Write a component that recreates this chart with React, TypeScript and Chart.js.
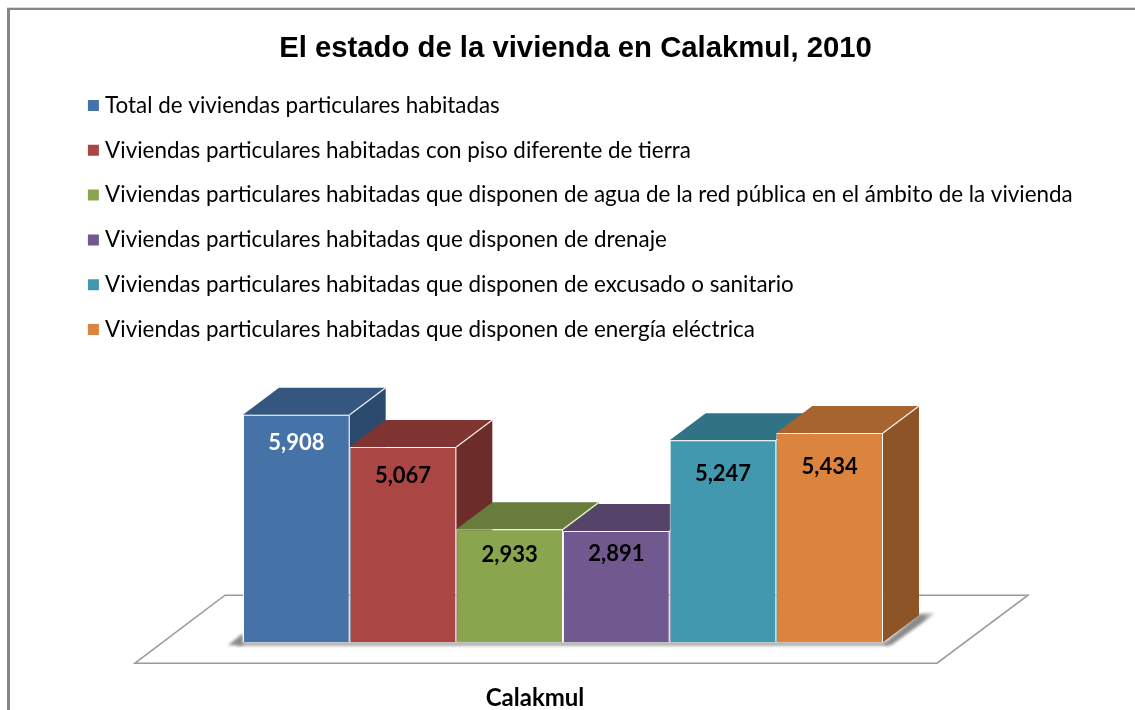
import React, { useEffect, useRef } from "react";
import { Chart, registerables } from "chart.js";

Chart.register(...registerables);

const categories = ["Calakmul"];
const seriesNames = [
  "Total de viviendas particulares habitadas",
  "Viviendas particulares habitadas con piso diferente de tierra",
  "Viviendas particulares habitadas que disponen de agua de la red pública en el ámbito de la vivienda",
  "Viviendas particulares habitadas que disponen de drenaje",
  "Viviendas particulares habitadas que disponen de excusado o sanitario",
  "Viviendas particulares habitadas que disponen de energía eléctrica",
];
const seriesValues = [5908, 5067, 2933, 2891, 5247, 5434];
const frontColors = ["#4572A7", "#AA4643", "#89A54E", "#71588F", "#4198AF", "#DB843D"];
const topColors = ["#35577F", "#803533", "#687D3B", "#564369", "#317385", "#A6642E"];
const sideColors = ["#2C4A6E", "#6C2C2A", "#58692F", "#48385A", "#296170", "#8C5427"];
const labelColors = ["#FFFFFF", "#000000", "#000000", "#000000", "#000000", "#000000"];
const labelDrop = [28, 29, 26, 23, 34, 34];

const DEPTH_X = 36;
const DEPTH_Y = -27;
const UI_FONT = "Lato";

function drawBox(chart: any, i: number) {
  const { ctx } = chart;
  const meta = chart.getDatasetMeta(i);
  const bar = meta.data[0];
  const l = bar.x - bar.width / 2;
  const r = l + bar.width;
  const t = bar.y;
  const b = bar.base;
  ctx.save();
  ctx.fillStyle = sideColors[i];
  ctx.beginPath();
  ctx.moveTo(r, t);
  ctx.lineTo(r + DEPTH_X, t + DEPTH_Y);
  ctx.lineTo(r + DEPTH_X, b + DEPTH_Y);
  ctx.lineTo(r, b);
  ctx.closePath();
  ctx.fill();
  ctx.fillStyle = topColors[i];
  ctx.beginPath();
  ctx.moveTo(l, t);
  ctx.lineTo(l + DEPTH_X, t + DEPTH_Y);
  ctx.lineTo(r + DEPTH_X, t + DEPTH_Y);
  ctx.lineTo(r, t);
  ctx.closePath();
  ctx.fill();
  ctx.strokeStyle = "rgba(255,255,255,0.9)";
  ctx.lineWidth = 1.25;
  ctx.beginPath();
  ctx.moveTo(r, t);
  ctx.lineTo(r + DEPTH_X, t + DEPTH_Y);
  ctx.stroke();
  ctx.restore();
  meta.controller.draw();
}

const scene3d = {
  id: "scene3d",
  afterLayout(chart: any) {
    chart.titleBlock.left += 25;
    chart.legend.width = chart.width - chart.legend.left;
    chart.legend.right = chart.width;
  },
  beforeDraw(chart: any) {
    const { ctx, width, height } = chart;
    ctx.save();
    ctx.fillStyle = "#FFFFFF";
    ctx.fillRect(0, 0, width, height);
    ctx.fillStyle = "#DDDDDD";
    ctx.fillRect(7, 7, width - 7, 1);
    ctx.fillStyle = "#868686";
    ctx.fillRect(7, 8, width - 7, 2);
    ctx.fillRect(7, 8, 3, height - 8);
    ctx.restore();
  },
  beforeDatasetsDraw(chart: any) {
    const { ctx } = chart;
    const first = chart.getDatasetMeta(0).data[0];
    const last = chart.getDatasetMeta(seriesValues.length - 1).data[0];
    const left = first.x - first.width / 2;
    const right = last.x + last.width / 2;
    const base = first.base;
    ctx.save();
    // floor
    ctx.beginPath();
    ctx.moveTo(left - 108, base + 21);
    ctx.lineTo(left - 18, base - 47);
    ctx.lineTo(right + 145, base - 47);
    ctx.lineTo(right + 54, base + 21);
    ctx.closePath();
    ctx.fillStyle = "#FFFFFF";
    ctx.fill();
    ctx.strokeStyle = "#9A9A9A";
    ctx.lineWidth = 1.5;
    ctx.stroke();
    // soft shadows
    ctx.filter = "blur(1.5px)";
    ctx.fillStyle = "#A2A2A2";
    ctx.fillRect(left - 6, base, right - left + 12, 3.5);
    const fade = ctx.createLinearGradient(right + 8, 0, right + 54, 0);
    fade.addColorStop(0, "#8A8A8A");
    fade.addColorStop(0.7, "#8A8A8A");
    fade.addColorStop(1, "rgba(138,138,138,0)");
    ctx.fillStyle = fade;
    ctx.beginPath();
    ctx.moveTo(right, base + 2);
    ctx.lineTo(right + 36, base - 28);
    ctx.lineTo(right + 54, base - 30);
    ctx.lineTo(right + 8, base + 3);
    ctx.closePath();
    ctx.fill();
    ctx.fillStyle = "#8A8A8A";
    ctx.beginPath();
    ctx.moveTo(left, base - 9);
    ctx.lineTo(left - 15, base + 3);
    ctx.lineTo(left, base + 3);
    ctx.closePath();
    ctx.fill();
    ctx.restore();
  },
  // The library paints the rightmost dataset first; these boxes must overlap
  // left to right, so the controllers are called in that order below.
  beforeDatasetDraw() {
    return false;
  },
  afterDatasetsDraw(chart: any) {
    const { ctx } = chart;
    seriesValues.forEach((_, i) => drawBox(chart, i));
    ctx.save();
    ctx.font = `bold 22px "${UI_FONT}"`;
    ctx.textAlign = "center";
    ctx.textBaseline = "middle";
    seriesValues.forEach((v, i) => {
      const bar = chart.getDatasetMeta(i).data[0];
      ctx.fillStyle = labelColors[i];
      ctx.fillText(v.toLocaleString("en-US"), bar.x, bar.y + labelDrop[i]);
    });
    ctx.restore();
  },
};

export default function App() {
  const ref = useRef<HTMLCanvasElement>(null);
  useEffect(() => {
    document.body.style.margin = "0";
    const chart = new Chart(ref.current as HTMLCanvasElement, {
      type: "bar",
      data: {
        labels: categories,
        datasets: seriesNames.map((label, i) => ({
          label,
          data: [seriesValues[i]],
          backgroundColor: frontColors[i],
          borderColor: "rgba(255,255,255,0.9)",
          borderWidth: 1,
        })),
      },
      options: {
        responsive: false,
        animation: false,
        layout: { padding: { left: 70.5, right: 79.5, top: 31.4, bottom: -37 } },
        plugins: {
          title: {
            display: true,
            text: "El estado de la vivienda en Calakmul, 2010",
            color: "#000000",
            font: { family: "Liberation Sans", size: 29.3, weight: "bold" },
            padding: { top: 0, bottom: 5.35 },
          },
          legend: {
            display: true,
            position: "top",
            align: "start",
            labels: {
              color: "#000000",
              font: { family: UI_FONT, size: 22.4 },
              boxWidth: 1,
              boxHeight: 1,
              padding: 22.4,
              generateLabels: () =>
                seriesNames.map((text, i) => ({
                  text,
                  fillStyle: frontColors[i],
                  strokeStyle: frontColors[i],
                  lineWidth: 10,
                  datasetIndex: i,
                })),
            },
          },
          tooltip: { enabled: false },
        },
        scales: {
          x: {
            grid: { display: false },
            border: { display: false },
            ticks: {
              color: "#000000",
              font: { family: UI_FONT, size: 24, weight: "bold" },
              padding: 34,
              labelOffset: -28,
              maxRotation: 0,
            },
          } as any,
          y: { display: false, min: 0, max: 7570 },
        },
        datasets: { bar: { categoryPercentage: 640 / 985, barPercentage: 1 } },
      } as any,
      plugins: [scene3d],
    });
    return () => chart.destroy();
  }, []);
  return <canvas ref={ref} width={1135} height={710} style={{ display: "block" }} />;
}
